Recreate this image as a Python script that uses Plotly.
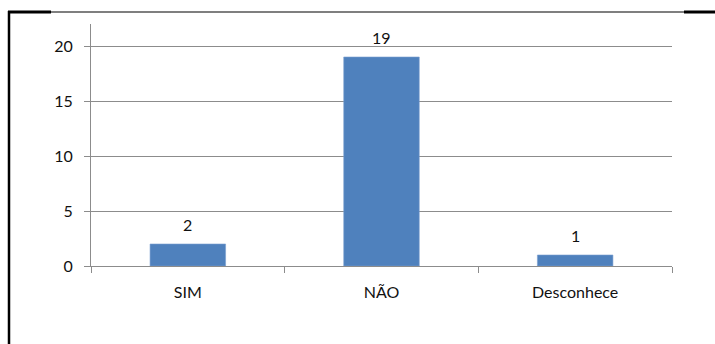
import plotly.graph_objects as go

# Survey answers and counts
categories = ["SIM", "NÃO", "Desconhece"]
counts = [2, 19, 1]
y_ticks = [0, 5, 10, 15, 20]

W, H = 715, 344
BAR_COLOR = "#4F81BD"
GRID = "#8c8c8c"
FONT = "Lato"


def px_x(x):
    return x / W


def px_y(y):
    return (H - y) / H


fig = go.Figure()
fig.add_trace(go.Bar(
    x=categories,
    y=counts,
    marker=dict(color=BAR_COLOR, line=dict(color="#7a9fd0", width=0.6)),
    width=0.39,
    hoverinfo="skip",
))

# Value labels above each bar
for c, v in zip(categories, counts):
    fig.add_annotation(x=c, y=v, text=str(v), showarrow=False,
                       yshift=20, font=dict(family=FONT, size=16, color="#111"))

# Page frame lines around the chart
frame = [
    (8, 12, 715, 12, 1.2),
    (9, 11, 9, 344, 2.5),
    (8, 12, 51, 12, 3),
    (684, 12, 715, 12, 3),
]
for x0, y0, x1, y1, w in frame:
    fig.add_shape(type="line", xref="paper", yref="paper",
                  x0=px_x(x0), y0=px_y(y0), x1=px_x(x1), y1=px_y(y1),
                  line=dict(color="black", width=w))

fig.update_layout(
    width=W, height=H,
    margin=dict(l=0, r=0, t=0, b=0, autoexpand=False),
    paper_bgcolor="white", plot_bgcolor="white",
    showlegend=False,
    font=dict(family=FONT, size=16, color="#111"),
    xaxis=dict(
        domain=[px_x(91), px_x(672)],
        automargin=False,
        showline=True, linecolor=GRID, linewidth=1.2,
        ticks="outside", ticklen=6, tickcolor=GRID,
        tickson="boundaries",
        showgrid=False,
        ticklabelstandoff=12,
        tickfont=dict(family=FONT, size=16, color="#111"),
    ),
    yaxis=dict(
        domain=[px_y(266), px_y(24)],
        automargin=False,
        range=[0, 22],
        tickvals=y_ticks,
        showline=True, linecolor=GRID, linewidth=1.2,
        ticks="outside", ticklen=6, tickcolor=GRID,
        showgrid=True, gridcolor=GRID, gridwidth=1.2,
        zeroline=False,
        ticklabelstandoff=8,
        tickfont=dict(family=FONT, size=16, color="#111"),
    ),
)

fig.write_html("out.html")
